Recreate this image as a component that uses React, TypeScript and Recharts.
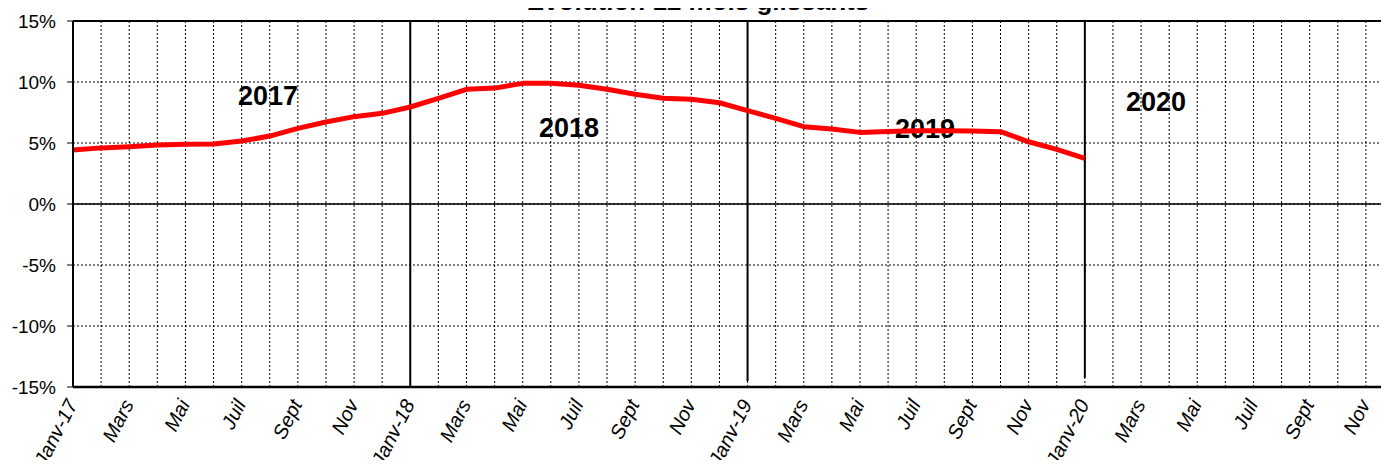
import React from "react";
import { LineChart, Line, XAxis, YAxis, CartesianGrid, ReferenceLine } from "recharts";

const years = ["17", "18", "19", "20"];
const monthNames = ["Janv", "Févr", "Mars", "Avr", "Mai", "Juin", "Juil", "Août", "Sept", "Oct", "Nov", "Déc"];

const values2017 = [4.43, 4.6, 4.7, 4.84, 4.9, 4.92, 5.16, 5.57, 6.2, 6.72, 7.16, 7.43];
const values2018 = [7.95, 8.66, 9.4, 9.5, 9.89, 9.89, 9.73, 9.4, 8.99, 8.66, 8.58, 8.3];
const values2019 = [7.65, 7.02, 6.34, 6.15, 5.87, 5.95, 6.0, 6.0, 5.98, 5.93, 5.1, 4.48];
const values2020: (number | null)[] = [3.74, null, null, null, null, null, null, null, null, null, null, null];

const yTicks = [-15, -10, -5, 0, 5, 10, 15];
const yearLabels = ["2017", "2018", "2019", "2020"];
const title = "Evolution 12 mois glissants";

const allValues = [values2017, values2018, values2019, values2020];
const data = allValues.flatMap((vals, yi) =>
  vals.map((v, mi) => ({ key: `${years[yi]}-${mi}`, year: years[yi], month: mi, v }))
);

const FONT = "'Liberation Sans', Arial, sans-serif";

const labelFor = (key: string) => {
  const [yy, m] = key.split("-");
  const mi = Number(m);
  if (mi % 2 !== 0) return "";
  if (mi === 0) return `Janv-${yy}`;
  return monthNames[mi];
};

const XTick = (props: any) => {
  const { x, y, payload } = props;
  const label = labelFor(String(payload.value));
  if (!label) return null;
  return (
    <text
      transform={`translate(${x + 5},${y + 9}) rotate(-63)`}
      textAnchor="end"
      fontStyle="italic"
      fontSize={20}
      fontFamily={FONT}
      fill="#000"
    >
      {label}
    </text>
  );
};

export default function App() {
  return (
    <div style={{ margin: -8, width: 1389, height: 468, overflow: "hidden", position: "relative", background: "#fff" }}>
      <LineChart width={1400} height={468} data={data} margin={{ top: 21, right: 6, bottom: 0, left: 0 }}>
        <CartesianGrid stroke="#000" strokeDasharray="2 2" strokeWidth={1} />
        <XAxis
          dataKey="key"
          interval={0}
          tickLine={false}
          height={81}
          axisLine={{ stroke: "#000", strokeWidth: 2.5 }}
          tick={<XTick />}
        />
        <YAxis
          width={73}
          domain={[-15, 15]}
          ticks={yTicks}
          interval={0}
          tickFormatter={(v: number) => `${v}%`}
          tickSize={6}
          tickMargin={11}
          axisLine={{ stroke: "#000", strokeWidth: 2 }}
          tickLine={{ stroke: "#000", strokeWidth: 1 }}
          tick={{ fill: "#000", fontSize: 19, fontFamily: FONT }}
        />
        <ReferenceLine y={15} stroke="#000" strokeWidth={2} />
        <ReferenceLine y={0} stroke="#000" strokeWidth={1.5} />
        <ReferenceLine segment={[{ x: "18-0", y: 15 }, { x: "18-0", y: -15 }]} stroke="#000" strokeWidth={2} />
        <ReferenceLine segment={[{ x: "19-0", y: 15 }, { x: "19-0", y: -14.5 }]} stroke="#000" strokeWidth={2} />
        <ReferenceLine segment={[{ x: "20-0", y: 15 }, { x: "20-0", y: -14.25 }]} stroke="#000" strokeWidth={2} />
        <Line
          type="linear"
          dataKey="v"
          stroke="#FF0000"
          strokeWidth={5}
          dot={false}
          activeDot={false}
          isAnimationActive={false}
          strokeLinejoin="round"
        />
        <text x={268} y={105} textAnchor="middle" fontWeight="bold" fontSize={27} fontFamily={FONT} fill="#000">
          {yearLabels[0]}
        </text>
        <text x={569} y={137} textAnchor="middle" fontWeight="bold" fontSize={27} fontFamily={FONT} fill="#000">
          {yearLabels[1]}
        </text>
        <text x={925} y={138} textAnchor="middle" fontWeight="bold" fontSize={27} fontFamily={FONT} fill="#000">
          {yearLabels[2]}
        </text>
        <text x={1156} y={111} textAnchor="middle" fontWeight="bold" fontSize={27} fontFamily={FONT} fill="#000">
          {yearLabels[3]}
        </text>
      </LineChart>
      <svg width={1389} height={20} style={{ position: "absolute", left: 0, top: 0, overflow: "visible" }}>
        <text x={698} y={10} textAnchor="middle" fontWeight="bold" fontSize={26} fontFamily={FONT} fill="#000">
          {title}
        </text>
      </svg>
    </div>
  );
}
